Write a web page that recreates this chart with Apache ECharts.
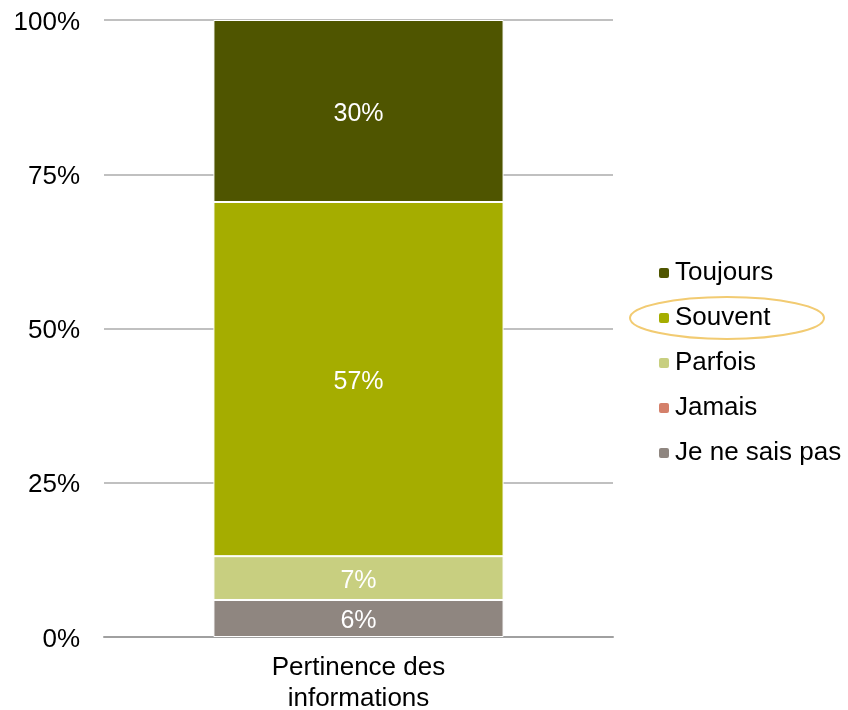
<!DOCTYPE html>
<html lang="fr">
<head>
    <meta charset="UTF-8">
    <title>Pertinence des informations</title>
    <script src="https://cdn.jsdelivr.net/npm/echarts@6/dist/echarts.min.js"></script>
    <style>
        html, body { margin: 0; padding: 0; background: #fff; }
        #main { width: 848px; height: 710px; }
    </style>
</head>
<body>
<div id="main"></div>
<script>
    // données (en %)
    var categories = ['Pertinence des\ninformations'];
    var seriesNames = ['Je ne sais pas', 'Jamais', 'Parfois', 'Souvent', 'Toujours'];
    var jeNeSaisPas = [6.0];
    var jamais = [0];
    var parfois = [7.1];
    var souvent = [57.4];
    var toujours = [29.5];
    var yTicks = [0, 25, 50, 75, 100];

    var values = [jeNeSaisPas, jamais, parfois, souvent, toujours];
    var colors = ['#8f8680', '#d4806a', '#c8cf80', '#a5ad00', '#4f5500'];
    var font = 'Liberation Sans, Arial';

    var chartDom = document.getElementById('main');
    var myChart = echarts.init(chartDom);

    var series = seriesNames.map(function (name, i) {
        return {
            name: name,
            type: 'bar',
            stack: 'total',
            barWidth: '57%',
            data: values[i],
            itemStyle: { color: colors[i], borderColor: '#fff', borderWidth: 1 },
            label: {
                show: values[i][0] > 0,
                color: '#fff',
                fontSize: 25,
                fontFamily: font,
                offset: [0, 3],
                formatter: function (p) { return Math.round(p.value) + '%'; }
            }
        };
    });

    var option = {
        animation: false,
        color: colors,
        grid: { left: 104, right: 235, top: 20, bottom: 73, outerBoundsMode: 'none' },
        legend: {
            orient: 'vertical',
            left: 652,
            top: 255,
            itemWidth: 12,
            itemHeight: 12,
            itemGap: 19,
            data: ['Toujours', 'Souvent', 'Parfois', 'Jamais', 'Je ne sais pas'],
            textStyle: { fontSize: 26, color: '#000', fontFamily: font }
        },
        xAxis: {
            type: 'category',
            data: categories,
            axisLine: { lineStyle: { color: '#a0a0a0', width: 2 } },
            axisTick: { show: false },
            axisLabel: {
                color: '#000', fontSize: 26, margin: 15, lineHeight: 31,
                fontFamily: font
            }
        },
        yAxis: {
            type: 'value',
            min: yTicks[0],
            max: yTicks[yTicks.length - 1],
            interval: 25,
            axisLine: { show: false },
            axisTick: { show: false },
            splitLine: { lineStyle: { color: '#c0c0c0', width: 2 } },
            axisLabel: {
                margin: 24,
                formatter: '{a|{value}%}',
                rich: {
                    a: { color: '#000', fontSize: 26, fontFamily: font, padding: [5, 0, 0, 0] }
                }
            }
        },
        // ellipse autour de "Souvent"
        graphic: [{
            type: 'ellipse',
            shape: { cx: 727, cy: 318, rx: 97, ry: 21 },
            style: { fill: 'none', stroke: '#f2cb72', lineWidth: 2 },
            z: 100
        }],
        series: series
    };
    myChart.setOption(option);
</script>
</body>
</html>
